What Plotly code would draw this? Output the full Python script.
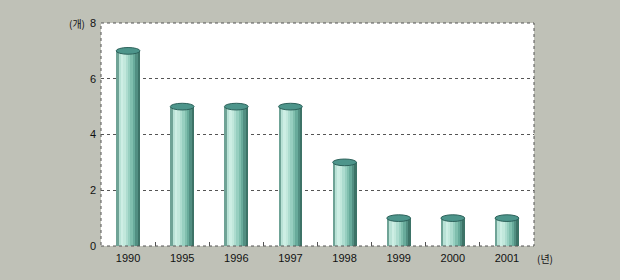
import plotly.graph_objects as go

# Data
years = ["1990", "1995", "1996", "1997", "1998", "1999", "2000", "2001"]
counts = [7, 5, 5, 5, 3, 1, 1, 1]
y_ticks = [0, 2, 4, 6, 8]

# Cylinder styling
bar_width = 0.44
body_colors = ["#6fa396", "#b9e2d6", "#cdeee4", "#c2e8dc", "#addccf",
               "#97cfc0", "#80bfae", "#68ab9b", "#528f82", "#3d7367"]
cap_half_height = 0.12  # in data units (ellipse of the cylinder top)

x_pos = list(range(len(years)))
n_strips = len(body_colors)
strip_w = bar_width / n_strips

fig = go.Figure()

# Body of each cylinder: several thin overlaid strips making a shaded column
for k, col in enumerate(body_colors):
    fig.add_trace(go.Bar(
        x=x_pos, y=counts,
        width=[strip_w * 1.02] * len(years),
        offset=-bar_width / 2 + k * strip_w,
        marker=dict(color=col, line=dict(width=0)),
        hoverinfo="skip", showlegend=False,
    ))

# Top ellipse of each cylinder
shapes = []
for xi, v in zip(x_pos, counts):
    shapes.append(dict(
        type="circle", xref="x", yref="y",
        x0=xi - bar_width / 2, x1=xi + bar_width / 2,
        y0=v - cap_half_height, y1=v + cap_half_height,
        fillcolor="#4d958b", line=dict(color="#2d625b", width=1),
        layer="above",
    ))

# Dotted frame around the plot area
shapes.append(dict(
    type="rect", xref="paper", yref="paper", x0=0, x1=1, y0=0, y1=1,
    line=dict(color="#555555", width=1, dash="dot"), layer="above",
))

font_family = "Liberation Sans, Arial, Noto Sans CJK KR"
kr_font = dict(family="Noto Sans CJK KR", size=10, color="#111111")

fig.update_layout(
    width=620, height=280,
    margin=dict(l=101, r=86, t=23, b=34),
    paper_bgcolor="#bfc1b7",
    plot_bgcolor="#ffffff",
    barmode="overlay",
    bargap=0,
    font=dict(family=font_family, size=11, color="#111111"),
    shapes=shapes,
    xaxis=dict(
        range=[-0.5, len(years) - 0.5],
        tickmode="array", tickvals=x_pos, ticktext=years,
        ticks="", showgrid=False, zeroline=False, showline=False,
        tickfont=dict(size=11, color="#111111"),
        ticklabelstandoff=4,
        minor=dict(tickmode="array",
                   tickvals=[i + 0.5 for i in x_pos[:-1]],
                   ticks="inside", ticklen=4, tickcolor="#555555",
                   showgrid=False),
        fixedrange=True,
    ),
    yaxis=dict(
        range=[0, 8],
        tickmode="array", tickvals=y_ticks,
        ticks="", showline=False, zeroline=False,
        showgrid=True, gridcolor="#555555", griddash="dot", gridwidth=1,
        tickfont=dict(size=11, color="#111111"),
        ticklabelstandoff=4,
        fixedrange=True,
    ),
    annotations=[
        dict(text="(개)", xref="paper", yref="y", x=0, y=8,
             xanchor="right", yanchor="middle", xshift=-14,
             showarrow=False, font=kr_font),
        dict(text="(년)", xref="x", yref="paper", x=len(years) - 1, y=0,
             xanchor="left", yanchor="middle", xshift=28, yshift=-12,
             showarrow=False, font=kr_font),
    ],
)

fig.write_html("out.html")
